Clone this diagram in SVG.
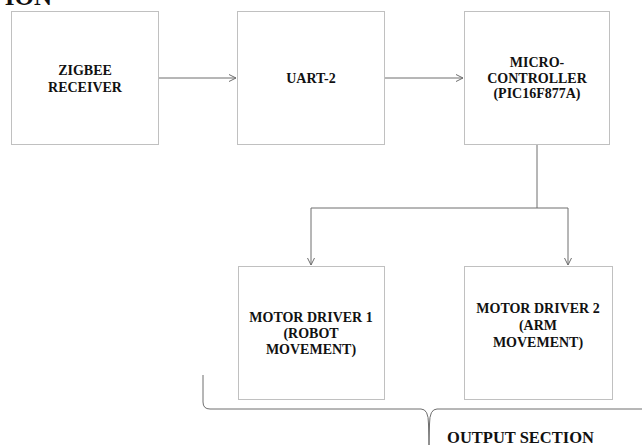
<svg xmlns="http://www.w3.org/2000/svg" width="642" height="448" viewBox="0 0 642 448">
  <style>
    .box { fill: #ffffff; stroke: #c0c0c0; stroke-width: 1; }
    .lbl { font-family: "Liberation Serif", "Times New Roman", serif; font-weight: bold; font-size: 14px; fill: #111; text-anchor: middle; }
    .wire { fill: none; stroke: #6e6e6e; stroke-width: 1; }
    .head { font-family: "Liberation Serif", "Times New Roman", serif; font-weight: bold; fill: #111; }
  </style>
  <defs>
    <marker id="arrow" markerWidth="10" markerHeight="10" refX="8" refY="5" orient="auto" markerUnits="userSpaceOnUse">
      <path d="M1,1.5 L8,5 L1,8.5" fill="none" stroke="#6e6e6e" stroke-width="1"/>
    </marker>
  </defs>
  <rect width="642" height="448" fill="#ffffff"/>

  <!-- heading, running off the top edge -->
  <text class="head" x="52" y="5" font-size="25" text-anchor="end">ION</text>

  <g id="connectors">
    <line class="wire" x1="158" y1="78" x2="236" y2="78" marker-end="url(#arrow)"/>
    <line class="wire" x1="385" y1="78" x2="463" y2="78" marker-end="url(#arrow)"/>
    <polyline class="wire" points="537,144 537,208 311,208 311,265" marker-end="url(#arrow)"/>
    <polyline class="wire" points="537,208 568,208 568,265" marker-end="url(#arrow)"/>
  </g>

  <g id="zigbee">
    <rect class="box" x="11.5" y="11.5" width="147" height="133"/>
    <text class="lbl" x="85" y="75">ZIGBEE</text>
    <text class="lbl" x="85" y="92">RECEIVER</text>
  </g>

  <g id="uart">
    <rect class="box" x="237.5" y="11.5" width="147" height="133"/>
    <text class="lbl" x="311" y="83">UART-2</text>
  </g>

  <g id="mcu">
    <rect class="box" x="464.5" y="11.5" width="145" height="133"/>
    <text class="lbl" x="537" y="67">MICRO-</text>
    <text class="lbl" x="537" y="82.5">CONTROLLER</text>
    <text class="lbl" x="537" y="97.5">(PIC16F877A)</text>
  </g>

  <g id="motor1">
    <rect class="box" x="238.5" y="266.5" width="146" height="133"/>
    <text class="lbl" x="311" y="322">MOTOR DRIVER 1</text>
    <text class="lbl" x="311" y="338">(ROBOT</text>
    <text class="lbl" x="311" y="354">MOVEMENT)</text>
  </g>

  <g id="motor2">
    <rect class="box" x="464.5" y="266.5" width="148" height="133"/>
    <text class="lbl" x="538" y="313">MOTOR DRIVER 2</text>
    <text class="lbl" x="538" y="330">(ARM</text>
    <text class="lbl" x="538" y="347">MOVEMENT)</text>
  </g>

  <g id="output-section">
    <!-- horizontal curly brace spanning both motor drivers -->
    <path class="wire" d="M203,375 L203,402 Q203,409 210,409 L421,409 Q428.5,409 428.5,424 L429,445 M429,445 L429.5,424 Q429.5,409 437,409 L642,409"/>
    <text class="lbl" x="520.5" y="443" style="font-size:16.5px">OUTPUT SECTION</text>
  </g>
</svg>
